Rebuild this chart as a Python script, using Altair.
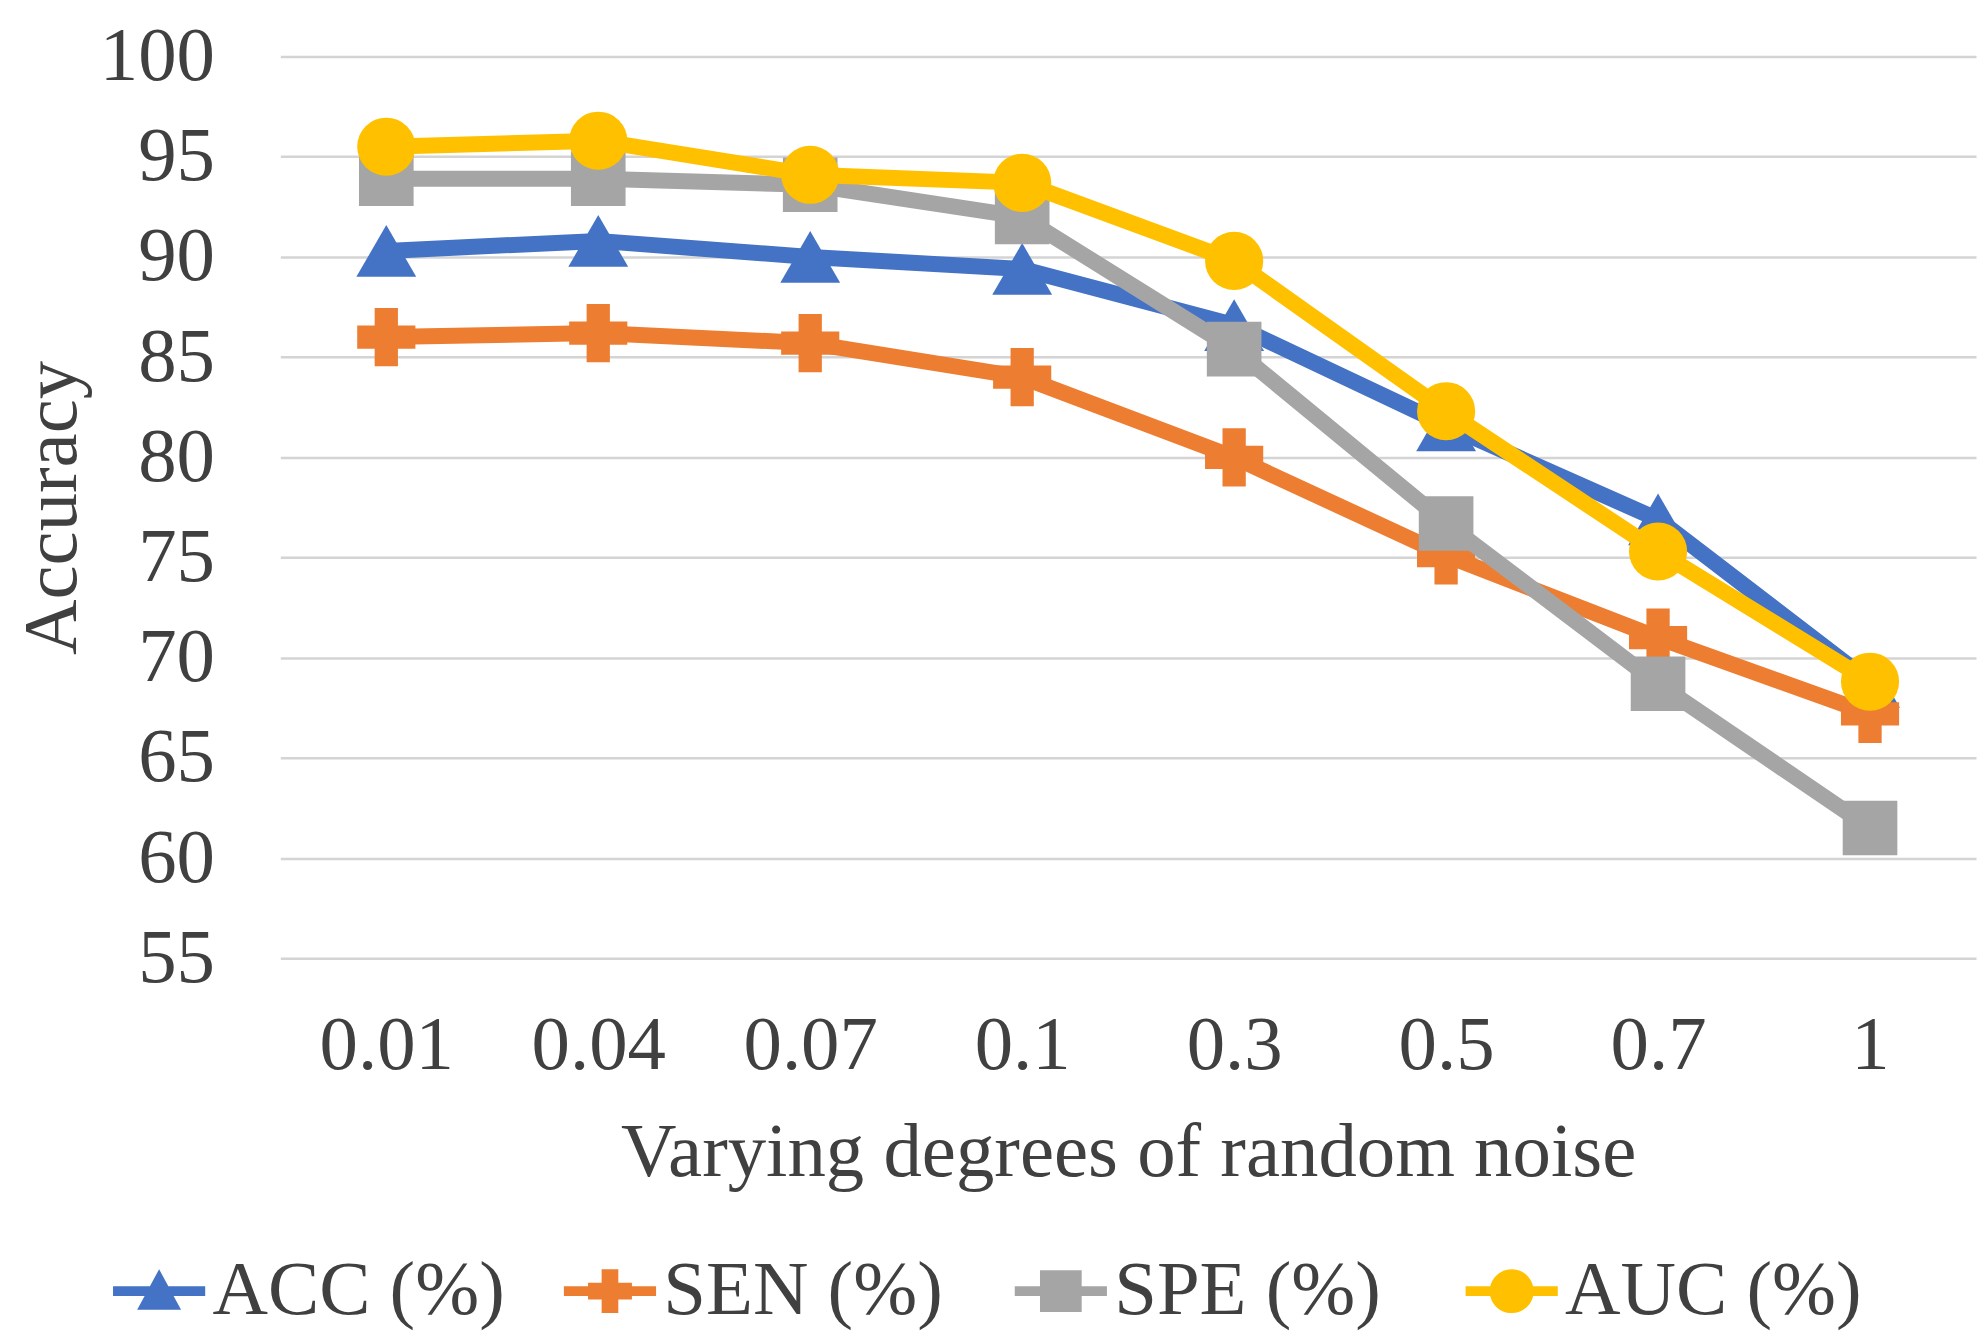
import altair as alt
import pandas as pd

noise = ["0.01", "0.04", "0.07", "0.1", "0.3", "0.5", "0.7", "1"]
series = ["ACC (%)", "SEN (%)", "SPE (%)", "AUC (%)"]
acc = [90.3, 90.8, 90.0, 89.4, 86.6, 81.6, 76.9, 68.8]
sen = [86.0, 86.2, 85.7, 84.0, 80.0, 75.1, 71.0, 67.2]
spe = [93.9, 93.9, 93.6, 92.0, 85.4, 76.7, 68.7, 61.5]
auc = [95.5, 95.8, 94.1, 93.7, 89.8, 82.3, 75.3, 68.8]
colors = ["#4472C4", "#ED7D31", "#A5A5A5", "#FFC000"]
shapes = ["triangle-up", "cross", "square", "circle"]
sizes = [3600, 3400, 3000, 3400]
y_ticks = [55, 60, 65, 70, 75, 80, 85, 90, 95, 100]

# legend symbols: a line segment with the marker on it
bar = "M-2.1,-0.22H2.1V0.22H-2.1Z"
legend_paths = [
    bar + "M0,-1L1,0.85L-1,0.85Z",
    bar + "M-0.38,-1H0.38V-0.38H1V0.38H0.38V1H-0.38V0.38H-1V-0.38H-0.38Z",
    bar + "M-0.95,-0.95H0.95V0.95H-0.95Z",
    bar + "M1,0A1,1 0 1,1 -1,0A1,1 0 1,1 1,0Z",
]

rows = []
for s, vals in zip(series, [acc, sen, spe, auc]):
    for n, v in zip(noise, vals):
        rows.append({"noise": n, "series": s, "value": v})
df = pd.DataFrame(rows)

FONT = "Liberation Serif"
TXT = "#404040"

x_enc = alt.X(
    "noise:N",
    sort=noise,
    axis=alt.Axis(
        title="Varying degrees of random noise",
        labelAngle=0,
        grid=False,
        labelPadding=50,
        titlePadding=31,
    ),
)
y_enc = alt.Y(
    "value:Q",
    scale=alt.Scale(domain=[55, 100], nice=False, zero=False),
    axis=alt.Axis(
        title="Accuracy",
        values=y_ticks,
        labelPadding=66,
        titlePadding=8,
    ),
)

legend_def = alt.Legend(
    title=None,
    orient="none",
    legendX=-160,
    legendY=1199,
    direction="horizontal",
    columns=4,
    gridAlign="all",
    symbolSize=1936,
    symbolOpacity=1,
    symbolStrokeWidth=0,
    labelOffset=15,
    labelLimit=0,
    columnPadding=54,
)

base = alt.Chart(df)

legend_layer = base.mark_point(filled=True, opacity=0).encode(
    x=x_enc,
    y=y_enc,
    color=alt.Color("series:N", scale=alt.Scale(domain=series, range=colors), legend=legend_def),
    shape=alt.Shape("series:N", scale=alt.Scale(domain=series, range=legend_paths), legend=legend_def),
)

layers = [legend_layer]
for s, c, sh, sz in zip(series, colors, shapes, sizes):
    sub = base.transform_filter(alt.datum.series == s)
    layers.append(
        sub.mark_line(color=c, strokeWidth=16).encode(x=x_enc, y=y_enc, detail="series:N")
    )
    layers.append(
        sub.mark_point(filled=True, color=c, shape=sh, size=sz, opacity=1).encode(x=x_enc, y=y_enc)
    )

chart = (
    alt.layer(*layers)
    .properties(width=1700, height=904, padding={"left": 5, "right": 2, "top": 8, "bottom": 0})
    .configure_view(stroke=None)
    .configure_axis(
        labelFont=FONT,
        titleFont=FONT,
        labelFontSize=77,
        titleFontSize=77,
        titleFontWeight="normal",
        labelColor=TXT,
        titleColor=TXT,
        domain=False,
        ticks=False,
        gridColor="#D4D4D4",
        gridWidth=2.5,
    )
    .configure_legend(
        labelFont=FONT,
        labelFontSize=77,
        labelColor=TXT,
    )
)

chart.save("out.html", embed_options={"renderer": "svg", "actions": False})
